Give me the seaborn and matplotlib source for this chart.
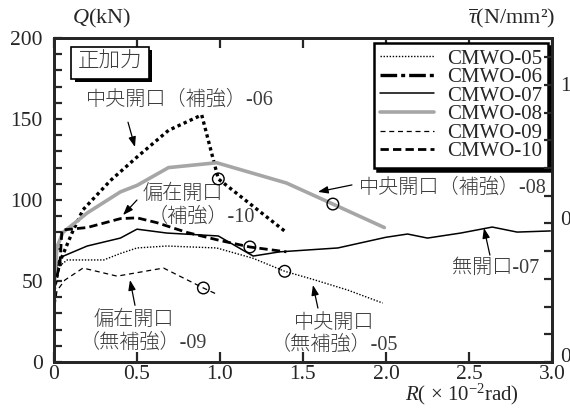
import numpy as np
import pandas as pd
import matplotlib
matplotlib.use('Agg')
import matplotlib.pyplot as plt
import matplotlib.patheffects as pe
from matplotlib.lines import Line2D
from matplotlib.ticker import MultipleLocator
from matplotlib.transforms import ScaledTranslation
import seaborn as sns

# Load-drift curves (R in 1e-2 rad, Q in kN)
r05 = [0.0, 0.018, 0.08, 0.30, 0.40, 0.50, 0.68, 0.98, 1.20, 1.39, 1.56, 1.77, 1.98]
q05 = [45, 58, 63, 63, 67, 70.4, 71.6, 70.4, 64, 56, 51, 44.4, 36.4]

r06 = [0.0, 0.036, 0.11, 0.175, 0.34, 0.50, 0.69, 0.89, 0.99, 1.40]
q06 = [44, 62, 80, 94, 112, 126.5, 143, 152.5, 113, 80]

r07 = [0.0, 0.018, 0.048, 0.20, 0.40, 0.50, 0.68, 0.99, 1.20, 1.36, 1.71, 2.00,
       2.13, 2.25, 2.45, 2.64, 2.79, 2.99]
q07 = [45, 61, 65, 71.6, 76.5, 82, 79.6, 77.8, 65.4, 68, 70.4, 77,
       79, 76.5, 79.6, 83.3, 80.2, 80.9]

r08 = [0.0, 0.018, 0.054, 0.20, 0.40, 0.50, 0.69, 0.98, 1.40, 1.68, 1.99]
q08 = [45, 71, 80, 92, 105, 109, 120, 123, 110.5, 97.5, 83]

r09 = [0.0, 0.018, 0.066, 0.175, 0.38, 0.66, 0.90, 0.99]
q09 = [30, 44, 50.6, 58, 53, 58, 45.7, 41.4]

r10 = [0.0, 0.036, 0.048, 0.20, 0.40, 0.50, 0.62, 0.80, 1.00, 1.18, 1.40]
q10 = [45, 61, 81.5, 83, 88.5, 89, 86, 80, 75, 71, 68]

# open-circle points on the curves
mark_r = [1.39, 0.99, 1.68, 0.90, 1.18]
mark_q = [56, 113, 97.5, 45.7, 71]

names = ['CMWO-05', 'CMWO-06', 'CMWO-07', 'CMWO-08', 'CMWO-09', 'CMWO-10']
rr = [r05, r06, r07, r08, r09, r10]
qq = [q05, q06, q07, q08, q09, q10]

Q_PER_TAU = 171.0  # kN per N/mm^2

sns.set_style('ticks')
plt.rcParams['font.family'] = ['Liberation Serif', 'Noto Sans CJK JP', 'DejaVu Sans']
plt.rcParams['mathtext.fontset'] = 'custom'
plt.rcParams['mathtext.rm'] = 'Liberation Serif'
plt.rcParams['mathtext.it'] = 'Liberation Serif:italic'

styles = {
    'CMWO-05': dict(color='black', lw=1.0, ls=(0, (1, 1.2))),
    'CMWO-06': dict(color='black', lw=2.4, ls=(0, (1, 1))),
    'CMWO-07': dict(color='black', lw=1.1, ls='-'),
    'CMWO-08': dict(color='#a6a6a6', lw=2.6, ls='-'),
    'CMWO-09': dict(color='black', lw=0.9, ls=(0, (4, 3))),
    'CMWO-10': dict(color='black', lw=2.0, ls=(0, (3, 1.5))),
}
legend_styles = dict(styles)
legend_styles['CMWO-06'] = dict(color='black', lw=2.4, ls=(0, (5, 1.2, 1.2, 1.2)))

fig = plt.figure(figsize=(5.7, 4.08), dpi=100)
ax = fig.add_axes([0.0947, 0.1127, 0.8737, 0.7942])

for name, r, q in zip(names, rr, qq):
    st = styles[name]
    d = pd.DataFrame({'R': r, 'Q': q})
    sns.lineplot(data=d, x='R', y='Q', ax=ax, sort=False, estimator=None,
                 color=st['color'], linewidth=st['lw'], linestyle=st['ls'])

sns.scatterplot(x=mark_r, y=mark_q, ax=ax, s=70, facecolor='none',
                edgecolor='black', linewidth=1.0, zorder=5)

ax.set_xlim(0, 3.0)
ax.set_ylim(0, 200)
ax.set_xticks(np.arange(0, 3.01, 0.5))
ax.set_xticklabels(['0', '0.5', '1.0', '1.5', '2.0', '2.5', '3.0'])
ax.set_yticks([0, 50, 100, 150, 200])
ax.yaxis.set_minor_locator(MultipleLocator(10))
ax.set_xlabel('')
ax.set_ylabel('')
ax.tick_params(axis='x', which='major', direction='in', top=True, bottom=True,
               length=7, width=1.6, labelsize=15.5, pad=2)
ax.tick_params(axis='y', which='both', direction='in', left=True, right=False,
               length=6, width=1.6, labelsize=15.5, pad=8)
for sp in ax.spines.values():
    sp.set_linewidth(2.0)
    sp.set_visible(True)

tw = ax.twinx()
tw.set_ylim(0, 200 / Q_PER_TAU)
tw.set_yticks([0, 0.5, 1.0])
tw.set_yticklabels(['0', '0.5', '1.0'])
tw.yaxis.set_minor_locator(MultipleLocator(0.1))
tw.tick_params(axis='y', which='both', direction='in', length=6, width=1.6,
               labelsize=15.5, pad=6)
for sp in tw.spines.values():
    sp.set_linewidth(2.0)
# lift the lower right-hand labels a little, as in the original
for tick, dy in zip(tw.yaxis.get_major_ticks(), [7, 5, 1]):
    lab = tick.label2
    lab.set_transform(lab.get_transform() + ScaledTranslation(0, dy / 100, fig.dpi_scale_trans))

# axis titles
fig.text(0.127, 0.955, r'$Q$(kN)', fontsize=16, ha='left', va='center')
fig.text(0.975, 0.955, r'$\overline{\tau}$(N/mm²)', fontsize=16, ha='right', va='center')
fig.text(0.81, 0.002, r'$R$( × 10$^{-2}$rad)', fontsize=15, ha='center', va='bottom')

jp_color = '#3c3c3c'
jp = dict(fontsize=14.5, color=jp_color, ha='center', va='center', fontweight='light')
arrow = dict(arrowstyle='-|>,head_length=0.6,head_width=0.22', color='black',
             lw=0.9, shrinkA=0, shrinkB=0)

t = ax.text(0.337, 184.6, '正加力', fontsize=15.5, color=jp_color, ha='center',
            va='center', fontweight='light',
            bbox=dict(boxstyle='square,pad=0.3', fc='white', ec='black', lw=1.2))
t.get_bbox_patch().set_path_effects(
    [pe.SimplePatchShadow(offset=(2.5, -2.5), shadow_rgbFace='black', alpha=1), pe.Normal()])

ax.text(0.76, 161.7, '中央開口（補強）-06', **jp)
ax.annotate('', xy=(0.488, 132.7), xytext=(0.446, 148), arrowprops=arrow)

ax.text(0.777, 103.5, '偏在開口', **jp)
ax.text(0.886, 89.5, '（補強）-10', **jp)
ax.annotate('', xy=(0.416, 90.7), xytext=(0.50, 100), arrowprops=arrow)

ax.text(2.40, 107.4, '中央開口（補強）-08', **jp)
ax.annotate('', xy=(1.59, 105), xytext=(1.795, 109.3), arrowprops=arrow)

ax.text(2.66, 58, '無開口-07', **jp)
ax.annotate('', xy=(2.59, 82.7), xytext=(2.626, 66), arrowprops=arrow)

ax.text(1.687, 24, '中央開口', **jp)
ax.text(1.687, 10.5, '（無補強）-05', **jp)
ax.annotate('', xy=(1.56, 47.5), xytext=(1.59, 33.3), arrowprops=arrow)

ax.text(0.48, 26, '偏在開口', **jp)
ax.text(0.536, 11.7, '（無補強）-09', **jp)
ax.annotate('', xy=(0.458, 50.6), xytext=(0.488, 35), arrowprops=arrow)

handles = [Line2D([], [], color=legend_styles[n]['color'], lw=legend_styles[n]['lw'],
                  ls=legend_styles[n]['ls']) for n in names]
leg = ax.legend(handles, names, loc='upper right', bbox_to_anchor=(0.992, 0.985),
                fontsize=15, frameon=True, fancybox=False, edgecolor='black',
                handlelength=2.6, handletextpad=0.6, labelspacing=-0.05,
                borderpad=0.3, borderaxespad=0.0,
                shadow={'ox': 2.5, 'oy': -2.5, 'facecolor': 'black',
                        'edgecolor': 'black', 'alpha': 1})
leg.get_frame().set_linewidth(1.8)
leg.get_frame().set_alpha(1)
leg.set_zorder(10)

fig.savefig('out.png', dpi=100)
